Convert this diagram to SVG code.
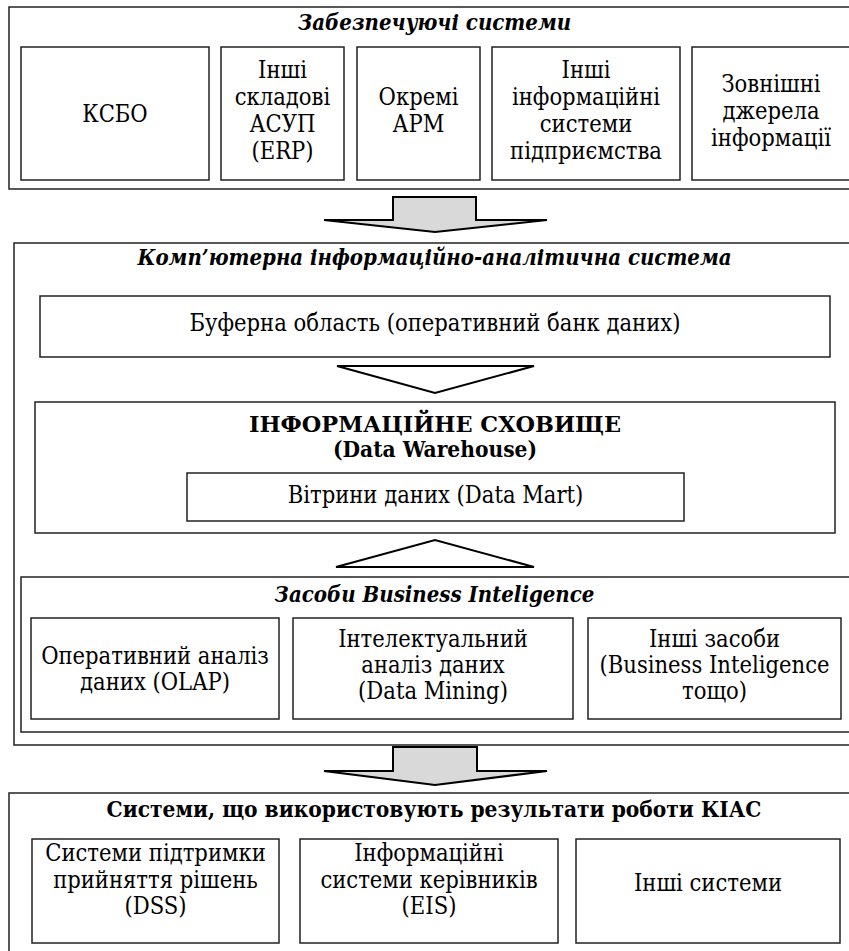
<svg xmlns="http://www.w3.org/2000/svg" width="849" height="951" viewBox="0 0 849 951">
<style>
.box{fill:#fff;stroke:#222;stroke-width:1.5}
.t{font-family:"DejaVu Serif Condensed","DejaVu Serif","Liberation Serif",serif;font-stretch:condensed;font-size:23.5px;fill:#000;text-anchor:middle}
.h{font-weight:bold;font-style:italic;font-size:22px}
.b{font-weight:bold;font-size:22.5px}
.arr{fill:#d9d9d9;stroke:#000;stroke-width:2;stroke-linejoin:miter}
.tri{fill:#fff;stroke:#000;stroke-width:2}
</style>
<rect width="849" height="951" fill="#fff"/>
<g id="supply">
<rect class="box" x="9" y="7" width="845" height="182"/>
<text class="t h" x="434.5" y="30">Забезпечуючі системи</text>
</g>
<g id="ksbo"><rect class="box" x="21" y="47" width="188" height="133"/><text class="t" x="115" y="122">КСБО</text></g>
<g id="erp"><rect class="box" x="221" y="47" width="123" height="133"/>
<text class="t" x="282.5" y="78">Інші</text><text class="t" x="282.5" y="105">складові</text><text class="t" x="282.5" y="132">АСУП</text><text class="t" x="282.5" y="159">(ERP)</text></g>
<g id="arm"><rect class="box" x="357" y="47" width="123" height="133"/>
<text class="t" x="418.5" y="105">Окремі</text><text class="t" x="418.5" y="132">АРМ</text></g>
<g id="other-is"><rect class="box" x="492" y="47" width="188" height="133"/>
<text class="t" x="586" y="78">Інші</text><text class="t" x="586" y="105">інформаційні</text><text class="t" x="586" y="132">системи</text><text class="t" x="586" y="159">підприємства</text></g>
<g id="external"><rect class="box" x="692" y="47" width="160" height="133"/>
<text class="t" x="771" y="92">Зовнішні</text><text class="t" x="771" y="119">джерела</text><text class="t" x="771" y="146">інформації</text></g>

<g id="kias">
<rect class="box" x="14" y="243" width="840" height="502"/>
<text class="t h" x="434.5" y="265">Комп’ютерна інформаційно-аналітична система</text>
</g>
<g id="buffer"><rect class="box" x="40" y="296" width="790" height="61"/>
<text class="t" x="435" y="331">Буферна область (оперативний банк даних)</text></g>
<g id="dw"><rect class="box" x="35" y="402" width="800" height="131"/>
<text class="t b" x="435" y="432" textLength="372" lengthAdjust="spacingAndGlyphs">ІНФОРМАЦІЙНЕ СХОВИЩЕ</text><text class="t b" x="435" y="457">(Data Warehouse)</text></g>
<g id="datamart"><rect class="box" x="187" y="473" width="497" height="48"/>
<text class="t" x="435.5" y="503">Вітрини даних (Data Mart)</text></g>
<g id="bi">
<rect class="box" x="21" y="577" width="833" height="155"/>
<text class="t h" x="434.5" y="602">Засоби Business Inteligence</text>
</g>
<g id="olap"><rect class="box" x="31" y="618" width="248" height="101"/>
<text class="t" x="155" y="664">Оперативний аналіз</text><text class="t" x="155" y="690">даних (OLAP)</text></g>
<g id="mining"><rect class="box" x="293" y="618" width="280" height="101"/>
<text class="t" x="433" y="647">Інтелектуальний</text><text class="t" x="433" y="673">аналіз даних</text><text class="t" x="433" y="699">(Data Mining)</text></g>
<g id="other-bi"><rect class="box" x="588" y="618" width="253" height="101"/>
<text class="t" x="714.5" y="647">Інші засоби</text><text class="t" x="714.5" y="673">(Business Inteligence</text><text class="t" x="714.5" y="699">тощо)</text></g>

<g id="consumers">
<rect class="box" x="9" y="793" width="845" height="165"/>
<text class="t b" x="434" y="817">Системи, що використовують результати роботи КІАС</text>
</g>
<g id="dss"><rect class="box" x="32" y="839" width="247" height="104"/>
<text class="t" x="155.5" y="861">Системи підтримки</text><text class="t" x="155.5" y="888">прийняття рішень</text><text class="t" x="155.5" y="914">(DSS)</text></g>
<g id="eis"><rect class="box" x="300" y="839" width="258" height="104"/>
<text class="t" x="429" y="861">Інформаційні</text><text class="t" x="429" y="888">системи керівників</text><text class="t" x="429" y="914">(EIS)</text></g>
<g id="other-sys"><rect class="box" x="576" y="839" width="264" height="104"/>
<text class="t" x="708" y="891">Інші системи</text></g>

<g id="connectors">
<polygon class="arr" points="393,197 476,197 476,220 547,220 435,232 324,220 393,220"/>
<polygon class="tri" points="337,366 534,366 435,393"/>
<polygon class="tri" points="336,567 534,567 435,540"/>
<polygon class="arr" points="393,747 477,747 477,771 547,771 435,785 324,771 393,771"/>
</g>
</svg>
